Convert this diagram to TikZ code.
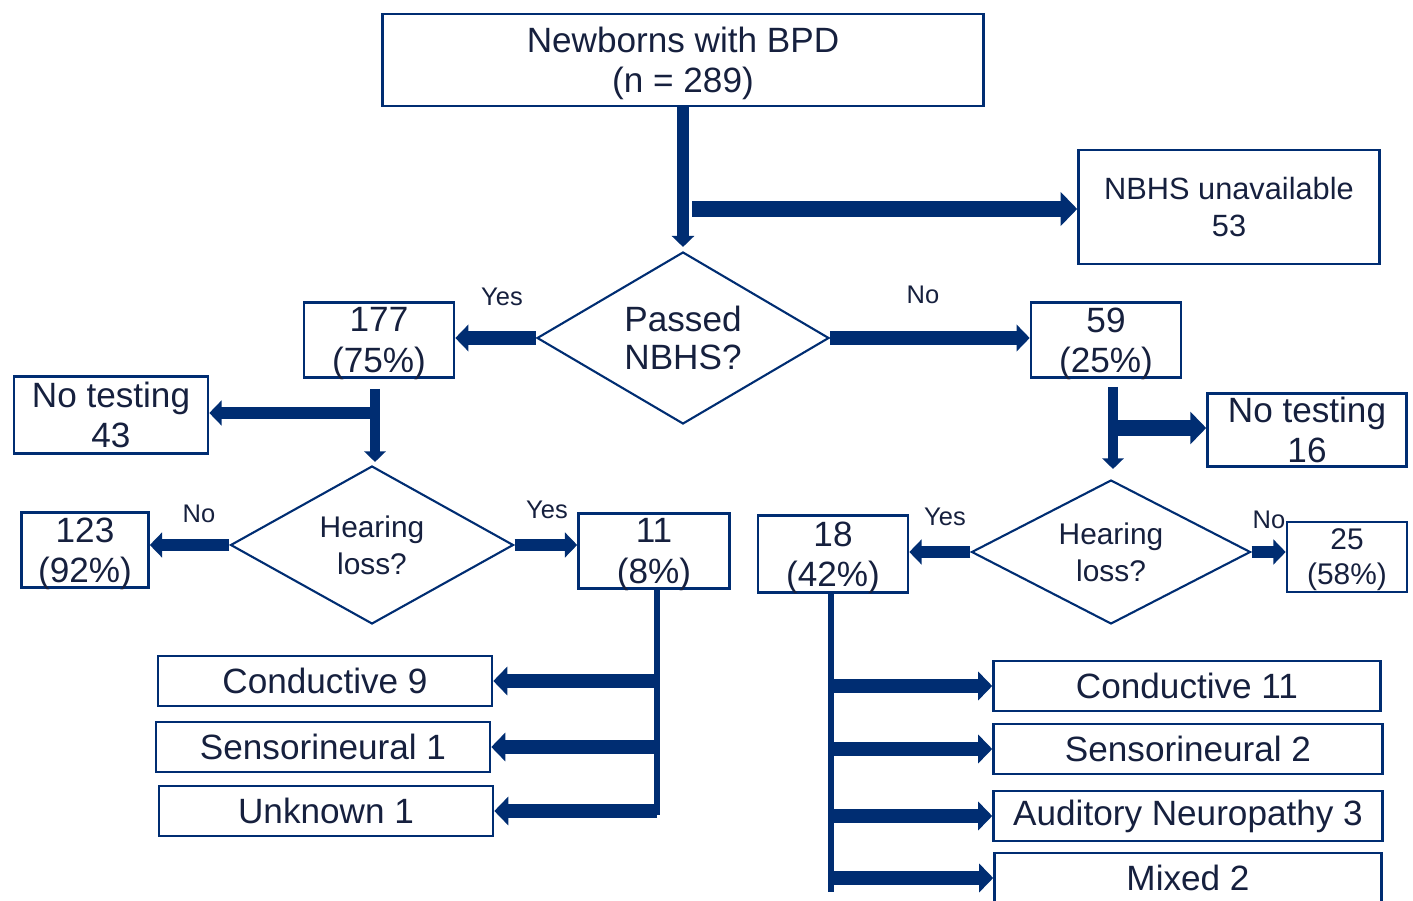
\documentclass[tikz,border=0pt]{standalone}
\usepackage{fontspec}
\setmainfont{Liberation Sans}
\usetikzlibrary{shapes.geometric,arrows.meta,calc}

\definecolor{navy}{RGB}{0,45,114}
\definecolor{ink}{RGB}{22,32,62}

\tikzset{
    box/.style={draw=navy, line width=1.5pt, text=ink, inner sep=0pt, align=center,
        font=\fontsize{20}{23}\selectfont},
    pair/.style={box, text depth=0pt},
    decide/.style={diamond, draw=navy, line width=1.2pt, text=ink, inner sep=0pt, align=center},
    fat/.style={draw=navy, line width=#1, -{Triangle[length=0pt 1, width=0pt 2]}},
    trunk/.style={draw=navy, line width=3.5pt},
    answer/.style={text=ink, font=\fontsize{14.5}{17}\selectfont}
}

\begin{document}
\begin{tikzpicture}[x=0.02cm, y=-0.02cm]
    \useasboundingbox (0,0) rectangle (1413,901);

    % Screening
    \node[pair, minimum width=12.02cm, minimum height=1.84cm] (cohort) at (683,60) {Newborns with BPD\\(n = 289)};
    \node[pair, minimum width=6.02cm, minimum height=2.28cm, font=\fontsize{17.5}{21}\selectfont] (nbhs) at (1229,207) {NBHS unavailable\\53};
    \node[decide, minimum width=5.84cm, minimum height=3.44cm, shape aspect=1.7,
        font=\fontsize{20}{21.5}\selectfont] (passed) at (683,338) {Passed\\NBHS?};

    \node[pair, minimum width=3cm, minimum height=1.5cm] (pass) at (379,340) {177\\(75\%)};
    \node[pair, minimum width=3cm, minimum height=1.5cm] (refer) at (1106,340) {59\\(25\%)};
    \node[answer] (passyes) at (502,297) {Yes};
    \node[answer] (passno) at (923,295) {No};

    % Follow-up of passed
    \node[pair, minimum width=3.88cm, minimum height=1.54cm] (notestA) at (111,415) {No testing\\43};
    \node[decide, minimum width=5.66cm, minimum height=3.16cm, shape aspect=1.8,
        font=\fontsize{17}{21}\selectfont] (hearA) at (372,545) {Hearing\\loss?};
    \node[pair, minimum width=2.54cm, minimum height=1.5cm] (normA) at (85,550) {123\\(92\%)};
    \node[pair, minimum width=3.02cm, minimum height=1.5cm] (lossA) at (654,551) {11\\(8\%)};
    \node[answer] (hearAno) at (199,514) {No};
    \node[answer] (hearAyes) at (547,510) {Yes};

    % Follow-up of referred
    \node[pair, minimum width=3.98cm, minimum height=1.46cm] (notestB) at (1307,430) {No testing\\16};
    \node[decide, minimum width=5.58cm, minimum height=2.88cm, shape aspect=1.9,
        font=\fontsize{17}{21}\selectfont] (hearB) at (1111,552) {Hearing\\loss?};
    \node[pair, minimum width=3cm, minimum height=1.54cm] (lossB) at (833,554) {18\\(42\%)};
    \node[pair, minimum width=2.4cm, minimum height=1.4cm, font=\fontsize{17}{20}\selectfont] (normB) at (1347,557) {25\\(58\%)};
    \node[answer] (hearByes) at (945,517) {Yes};
    \node[answer] (hearBno) at (1269,520) {No};

    % Types of loss
    \node[box, minimum width=6.68cm, minimum height=1cm] (condA) at (325,681) {Conductive 9};
    \node[box, minimum width=6.68cm, minimum height=1cm] (sensA) at (323,747) {Sensorineural 1};
    \node[box, minimum width=6.68cm, minimum height=1cm] (unknA) at (326,811) {Unknown 1};
    \node[box, minimum width=7.74cm, minimum height=1cm] (condB) at (1187,686) {Conductive 11};
    \node[box, minimum width=7.78cm, minimum height=1cm] (sensB) at (1188,749) {Sensorineural 2};
    \node[box, minimum width=7.78cm, minimum height=1cm] (audiB) at (1188,816) {Auditory Neuropathy 3};
    \node[box, minimum width=7.74cm, minimum height=1cm] (mixdB) at (1188,878) {Mixed 2};

    % Arrows
    \draw[fat=6.3pt] (cohort.south) -- ($(passed.north)+(0,-4)$);
    \draw[fat=9.5pt] ($(passed.north |- nbhs.west)+(9,2)$) -- ($(nbhs.west)+(0,2)$);
    \draw[fat=7.5pt] (passed.west) -- (passed.west -| pass.east);
    \draw[fat=7.5pt] (passed.east) -- (passed.east -| refer.west);

    \draw[fat=6pt] ($(pass.south -| hearA.north)+(3,10)$) -- ($(hearA.north)+(3,-3)$);
    \draw[fat=7pt] ($(hearA.north |- notestA.east)+(6,-2)$) -- ($(notestA.east)+(0,-2)$);
    \draw[fat=7pt] (hearA.west) -- (hearA.west -| normA.east);
    \draw[fat=7pt] (hearA.east) -- (hearA.east -| lossA.west);

    \draw[fat=6pt] ($(refer.south -| hearB.north)+(2,8)$) -- ($(hearB.north)+(2,-10)$);
    \draw[fat=9pt] ($(hearB.north |- notestB.west)+(7,-2)$) -- ($(notestB.west)+(0,-2)$);
    \draw[fat=7pt] (hearB.west) -- (hearB.west -| lossB.east);
    \draw[fat=7pt] (hearB.east) -- (hearB.east -| normB.west);

    % Branches to the types
    \draw[trunk] ($(lossA.south)+(3,0)$) -- ($(lossA.south |- unknA.east)+(3,4)$);
    \foreach \t in {condA, sensA, unknA} {
        \draw[fat=8pt] ($(\t.east -| lossA.south)+(3,0)$) -- (\t.east);
    }
    \draw[trunk] ($(lossB.south)+(-2,0)$) -- ($(lossB.south |- mixdB.west)+(-2,14)$);
    \foreach \t in {condB, sensB, audiB, mixdB} {
        \draw[fat=8pt] ($(\t.west -| lossB.south)+(-2,0)$) -- (\t.west);
    }
\end{tikzpicture}
\end{document}
